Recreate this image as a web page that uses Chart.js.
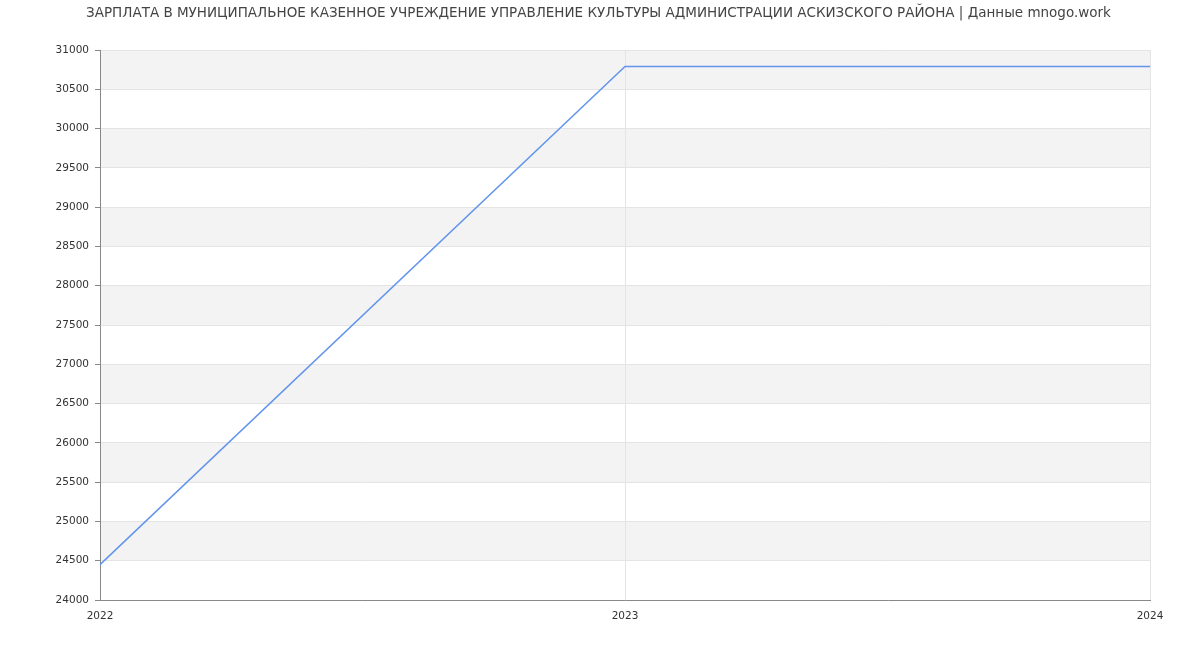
<!DOCTYPE html>
<html>
<head>
<meta charset="utf-8">
<script src="https://cdn.jsdelivr.net/npm/chart.js@4/dist/chart.umd.min.js"></script>
<style>
html,body{margin:0;padding:0;background:#fff;}
#wrap{width:1200px;height:650px;}
</style>
</head>
<body>
<div id="wrap"><canvas id="c" width="1200" height="650"></canvas></div>
<script>
const titleText = "ЗАРПЛАТА В МУНИЦИПАЛЬНОЕ КАЗЕННОЕ УЧРЕЖДЕНИЕ УПРАВЛЕНИЕ КУЛЬТУРЫ АДМИНИСТРАЦИИ АСКИЗСКОГО РАЙОНА | Данные mnogo.work";
const years = [2022, 2023, 2024];
const salary = [24450, 30790, 30790];
const yMin = 24000;
const yMax = 31000;
const yStep = 500;

const bands = {
  id: 'bands',
  beforeDraw(chart) {
    const {ctx, chartArea, scales} = chart;
    const y = scales.y;
    ctx.save();
    ctx.fillStyle = '#f3f3f3';
    let k = 0;
    for (let v = yMax; v > yMin; v -= yStep, k++) {
      if (k % 2 === 0) {
        const top = y.getPixelForValue(v);
        const bot = y.getPixelForValue(v - yStep);
        ctx.fillRect(chartArea.left, top, chartArea.right - chartArea.left, bot - top);
      }
    }
    ctx.restore();
  },
  afterDraw(chart) {
    const ctx = chart.ctx;
    ctx.save();
    ctx.fillStyle = '#444';
    ctx.font = "13.5px 'DejaVu Sans', sans-serif";
    ctx.textAlign = 'center';
    ctx.textBaseline = 'middle';
    ctx.fillText(titleText, 598.5, 13.5);
    ctx.restore();
  }
};

Chart.defaults.font.family = "'DejaVu Sans', sans-serif";

new Chart(document.getElementById('c'), {
  type: 'line',
  data: {
    labels: years.map(String),
    datasets: [{
      data: salary,
      borderColor: '#6495ed',
      borderWidth: 1.5,
      pointRadius: 0,
      fill: false,
      tension: 0
    }]
  },
  options: {
    responsive: false,
    animation: false,
    layout: {padding: {left: 0, right: 50, top: 50, bottom: 0}},
    plugins: {
      legend: {display: false},
      tooltip: {enabled: false},
      title: {display: false}
    },
    scales: {
      x: {
        type: 'category',
        offset: false,
        grid: {color: '#e4e4e4', drawTicks: false, lineWidth: 1},
        border: {color: '#888', width: 1},
        ticks: {color: '#333', font: {size: 10.5}, padding: 10, maxRotation: 0, autoSkip: false},
        afterFit(s) { s.height = 50; }
      },
      y: {
        min: yMin,
        max: yMax,
        grid: {color: '#e4e4e4', tickColor: '#888', tickLength: 5, lineWidth: 1},
        border: {color: '#888', width: 1},
        ticks: {stepSize: yStep, color: '#333', font: {size: 10.5}, padding: 6,
                callback: v => String(v)},
        afterFit(s) { s.width = 100; }
      }
    }
  },
  plugins: [bands]
});
</script>
</body>
</html>
